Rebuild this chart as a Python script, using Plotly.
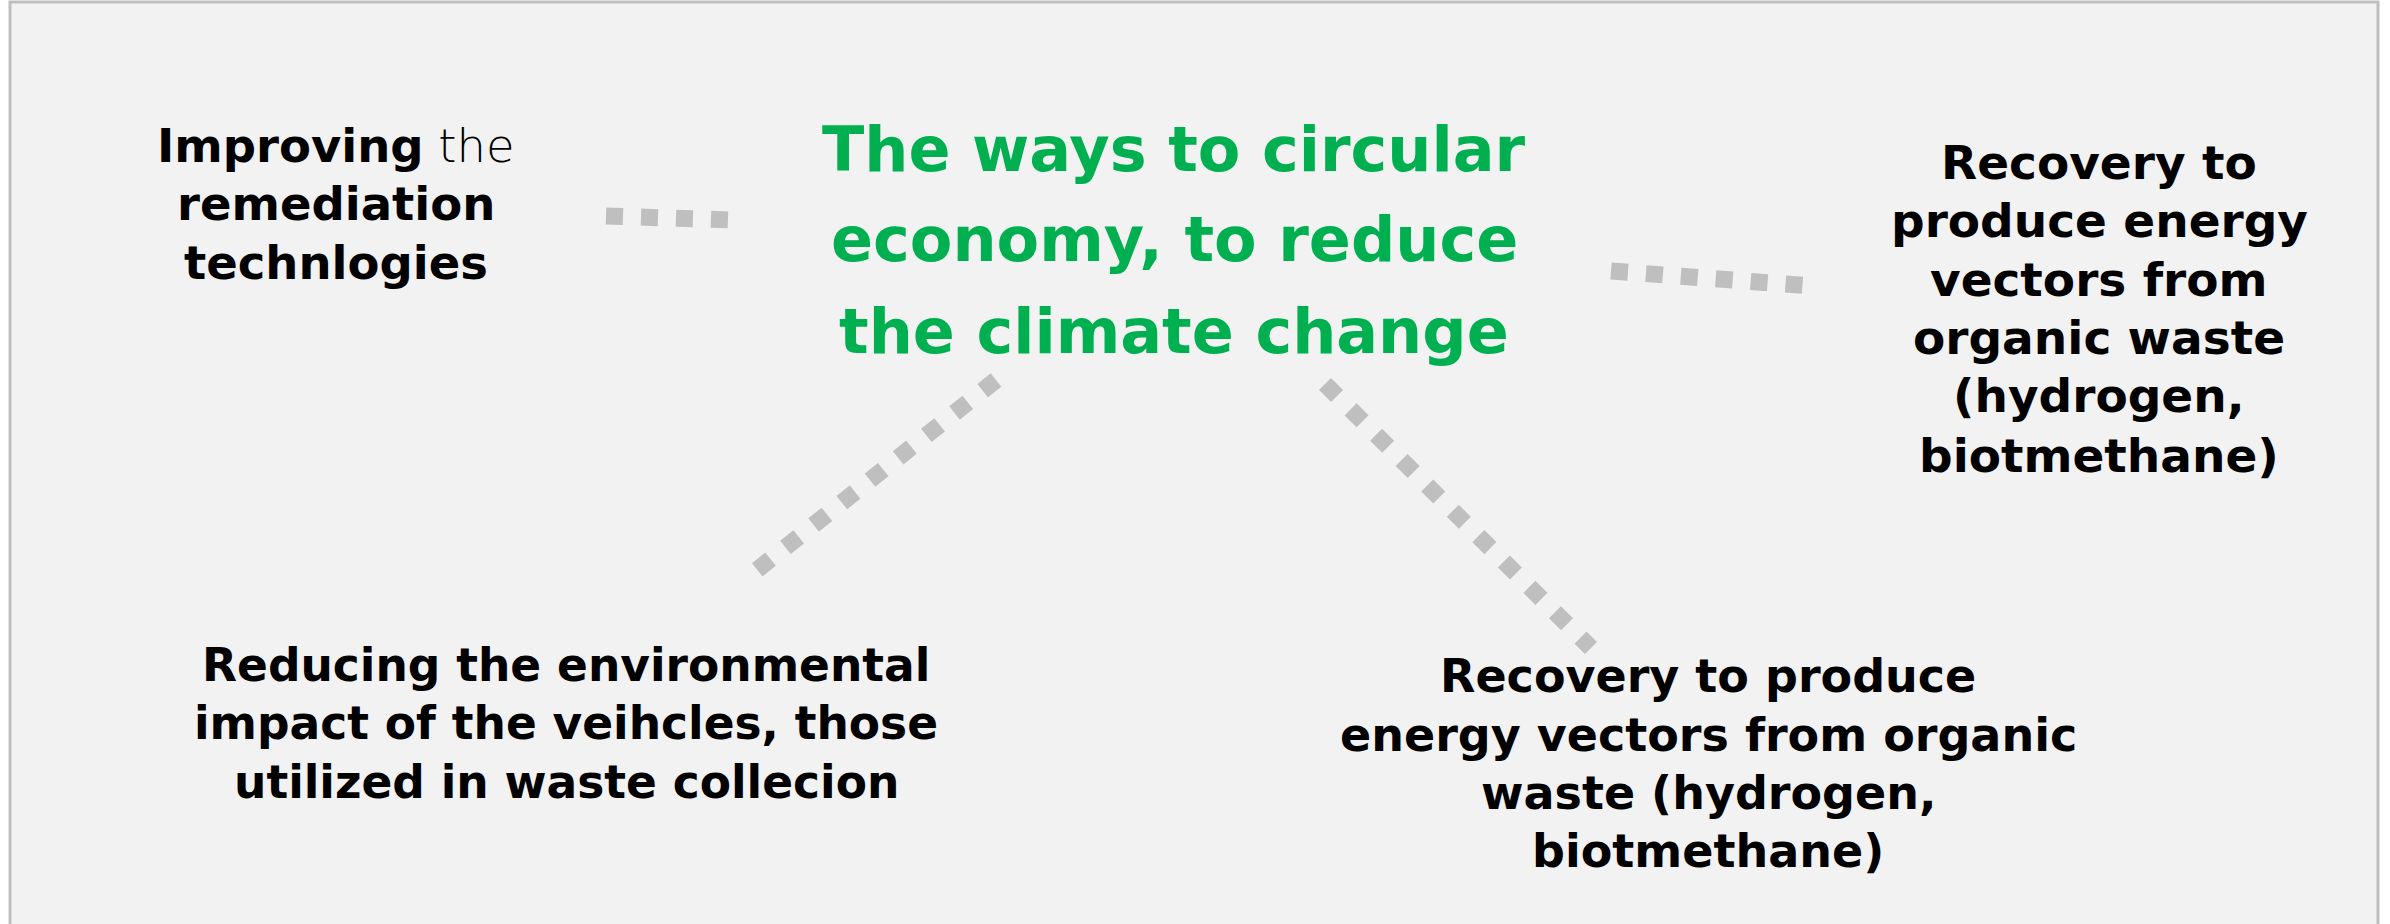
import plotly.graph_objects as go

# ---- content (text of the diagram) ----
title_lines = ["The ways to circular", "economy, to reduce", "the climate change"]
node_top_left = ["<b>Improving</b> <span style='font-weight:200'>the</span>", "remediation", "technlogies"]
node_right = ["Recovery to", "produce energy", "vectors from", "organic waste", "(hydrogen,", "biotmethane)"]
node_bottom_left = ["Reducing the environmental", "impact of the veihcles, those", "utilized in waste collecion"]
node_bottom_right = ["Recovery to produce", "energy vectors from organic", "waste (hydrogen,", "biotmethane)"]

# ---- layout (pixel canvas 2390 x 924, y downward) ----
W, H = 2390, 924
FONT = "'DejaVu Sans', Lato, sans-serif"
blocks = [
    # lines, center x, line-center y's, size, color
    (title_lines, 1174, [149, 239, 331], 62, "#00B050"),
    (node_top_left, 336, [146, 204, 263], 46.5, "#000000"),
    (node_right, 2099, [162, 220, 279, 337, 395, 455], 47, "#000000"),
    (node_bottom_left, 566, [665, 723, 782], 45.5, "#000000"),
    (node_bottom_right, 1708, [676, 735, 793, 851], 46, "#000000"),
]
connectors = [
    ((606, 216), (732, 220), "17px,18px"),
    ((1611, 271), (1812, 286), "17px,18px"),
    ((996, 380), (757, 570), "17px,19px"),
    ((1325, 384), (1591, 648), "17px,19px"),
]

fig = go.Figure()

for (x0, y0), (x1, y1), dash in connectors:
    fig.add_trace(go.Scatter(
        x=[x0, x1], y=[y0, y1], mode="lines",
        line=dict(color="#BFBFBF", width=17, dash=dash),
        hoverinfo="skip", showlegend=False,
    ))

annotations = []
for lines, cx, ys, size, color in blocks:
    for i, (txt, cy) in enumerate(zip(lines, ys)):
        weight = "bold"
        if lines is node_top_left and i == 0:
            weight = "normal"
        annotations.append(dict(
            x=cx, y=cy, xref="x", yref="y", text=txt, showarrow=False,
            xanchor="center", yanchor="middle", borderpad=0,
            font=dict(family=FONT, size=size, color=color, weight=weight),
        ))

fig.update_layout(
    width=W, height=H,
    margin=dict(l=0, r=0, t=0, b=0),
    paper_bgcolor="#FFFFFF", plot_bgcolor="#FFFFFF",
    xaxis=dict(range=[0, W], visible=False, fixedrange=True),
    yaxis=dict(range=[H, 0], visible=False, fixedrange=True),
    shapes=[dict(type="rect", xref="x", yref="y", x0=10, y0=2, x1=2378, y1=940,
                 line=dict(color="#BFBFBF", width=3), fillcolor="#F2F2F2", layer="below")],
    annotations=annotations,
    showlegend=False,
)

fig.write_html("out.html", config={"displayModeBar": False},
               post_script="document.body.style.margin='0';")
